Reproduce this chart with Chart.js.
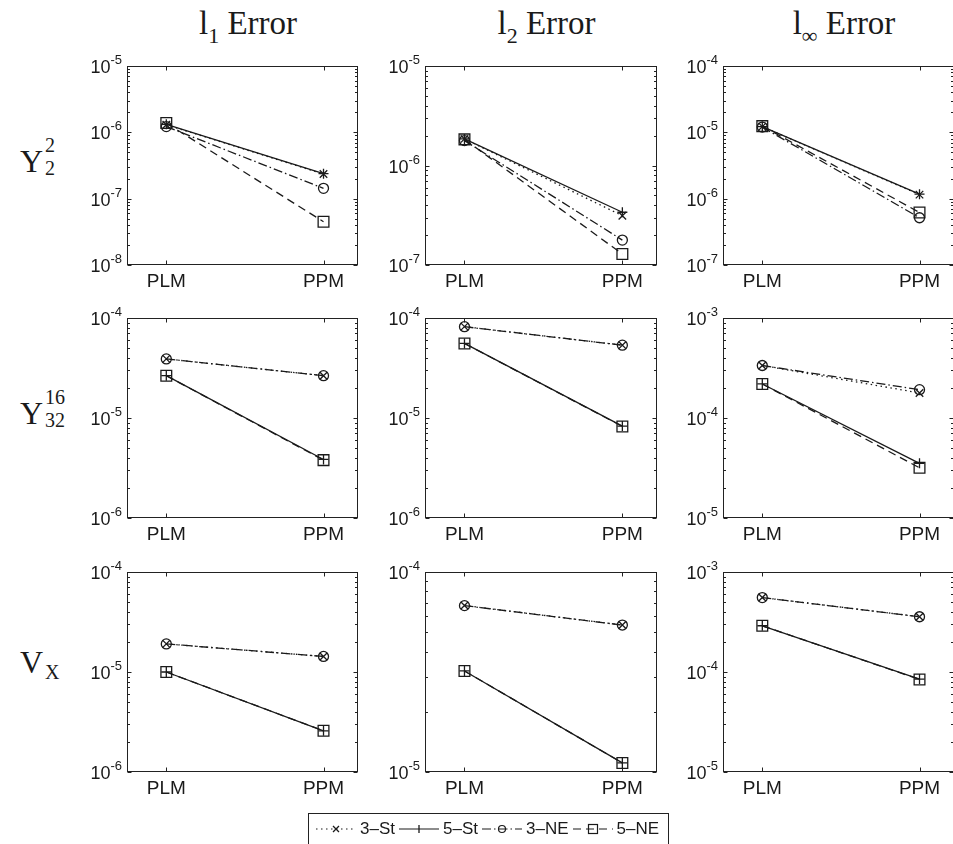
<!DOCTYPE html>
<html>
<head>
<meta charset="utf-8">
<script src="https://cdn.jsdelivr.net/npm/chart.js@4.4.1/dist/chart.umd.min.js"></script>
<style>
html,body{margin:0;padding:0;background:#fff;overflow:hidden;width:953px;height:844px;}
#wrap{position:relative;width:953px;height:844px;overflow:hidden;}
canvas.panel{position:absolute;}
.title{position:absolute;width:300px;text-align:center;font-family:'Liberation Serif',serif;font-size:33px;line-height:33px;color:#1a1a1a;white-space:nowrap;}
.title .sb{font-size:22px;position:relative;top:9px;}
.rl{position:absolute;left:20px;font-family:'Liberation Serif',serif;font-size:32px;line-height:32px;height:32px;color:#1a1a1a;}
.rl .sp,.rl .sbx{position:absolute;left:25px;font-size:20px;line-height:20px;white-space:nowrap;}
#legend{position:absolute;left:308px;top:813px;height:40px;border:1px solid #222;background:#fff;display:flex;align-items:flex-start;padding:0 6px 0 6px;font-family:'Liberation Sans',sans-serif;font-size:17px;color:#1a1a1a;}
#legend .it{display:flex;align-items:center;height:30px;margin-right:3px;}
#legend svg{display:block;margin-right:3px;}
</style>
</head>
<body>
<div id="wrap"></div>
<script>
// ---------- data ----------
const categories = ['PLM', 'PPM'];
const seriesNames = ['3\u2013St', '5\u2013St', '3\u2013NE', '5\u2013NE'];
const errorNames = ['1', '2', '\u221E'];            // l_1, l_2, l_inf
const rowNames = [['Y', '2', '2'], ['Y', '16', '32'], ['V', '', 'X']];

// panels in row-major order: (Y22,l1),(Y22,l2),(Y22,linf),(Y32,l1),(Y32,l2),(Y32,linf),(VX,l1),(VX,l2),(VX,linf)
// each entry: [PLM, PPM]
const st3 = [[1.30e-6, 2.35e-7], [1.85e-6, 3.13e-7], [1.22e-5, 1.15e-6],
             [3.90e-5, 2.65e-5], [8.20e-5, 5.35e-5], [3.35e-4, 1.78e-4],
             [1.91e-5, 1.43e-5], [6.80e-5, 5.43e-5], [5.55e-4, 3.57e-4]];
const st5 = [[1.32e-6, 2.38e-7], [1.85e-6, 3.39e-7], [1.22e-5, 1.17e-6],
             [2.65e-5, 3.85e-6], [5.57e-5, 8.30e-6], [2.19e-4, 3.52e-5],
             [1.00e-5, 2.58e-6], [3.20e-5, 1.11e-5], [2.90e-4, 8.50e-5]];
const ne3 = [[1.22e-6, 1.43e-7], [1.78e-6, 1.78e-7], [1.20e-5, 5.16e-7],
             [3.90e-5, 2.65e-5], [8.18e-5, 5.35e-5], [3.35e-4, 1.92e-4],
             [1.91e-5, 1.43e-5], [6.79e-5, 5.43e-5], [5.55e-4, 3.57e-4]];
const ne5 = [[1.38e-6, 4.49e-8], [1.83e-6, 1.29e-7], [1.24e-5, 6.20e-7],
             [2.65e-5, 3.79e-6], [5.57e-5, 8.24e-6], [2.19e-4, 3.18e-5],
             [1.00e-5, 2.58e-6], [3.20e-5, 1.11e-5], [2.90e-4, 8.43e-5]];
// y-axis decade range (exponents) per panel
const yExpMin = [-8, -7, -7, -6, -6, -5, -6, -5, -5];
const yExpMax = [-5, -5, -4, -4, -4, -3, -4, -4, -3];

// ---------- styling / layout ----------
const INK = '#1a1a1a';
const FONT = "'Liberation Sans', Arial, sans-serif";
const colLeft = [127, 425, 723], colW = [234, 235, 234];
const rowTop = [66, 318, 572], rowH = [199, 200, 200];
const PADL = 62, PADT = 14, PADR = 6, PADB = 34;

const seriesStyle = [
  {dash: [1.5, 3.5], ps: 'crossRot', r: 5.3},
  {dash: [], ps: 'cross', r: 5},
  {dash: [9, 3, 1.5, 3], ps: 'circle', r: 5},
  {dash: [8, 5], ps: 'rect', r: 7.6}
];
const seriesData = [st3, st5, ne3, ne5];

Chart.defaults.font.family = FONT;
Chart.defaults.color = INK;

// box, inner ticks and power-of-ten tick labels (MATLAB style)
const boxPlugin = {
  id: 'matlabBox',
  beforeDatasetsDraw(chart) {
    const {ctx, chartArea: a} = chart;
    const xs = chart.scales.x, ys = chart.scales.y;
    const L = Math.round(a.left) + 0.5, R = Math.round(a.right) - 0.5;
    const T = Math.round(a.top) + 0.5, B = Math.round(a.bottom) - 0.5;
    ctx.save();
    ctx.strokeStyle = '#222';
    ctx.lineWidth = 1;
    ctx.setLineDash([]);
    ctx.strokeRect(L, T, R - L, B - T);
    ctx.beginPath();
    ys.ticks.forEach((t, i) => {
      const py = Math.round(ys.getPixelForValue(t.value)) + 0.5;
      ctx.moveTo(L, py); ctx.lineTo(L + 4, py);
      ctx.moveTo(R, py); ctx.lineTo(R - 4, py);
      if (i < ys.ticks.length - 1) {
        for (let k = 2; k <= 9; k++) {
          const my = Math.round(ys.getPixelForValue(k * t.value)) + 0.5;
          ctx.moveTo(L, my); ctx.lineTo(L + 2.5, my);
          ctx.moveTo(R, my); ctx.lineTo(R - 2.5, my);
        }
      }
    });
    xs.ticks.forEach(t => {
      const px = Math.round(xs.getPixelForValue(t.value)) + 0.5;
      ctx.moveTo(px, B); ctx.lineTo(px, B - 4);
      ctx.moveTo(px, T); ctx.lineTo(px, T + 4);
    });
    ctx.stroke();

    // y tick labels "10" with raised exponent
    ctx.fillStyle = INK;
    ctx.textAlign = 'left';
    ctx.textBaseline = 'alphabetic';
    ys.ticks.forEach(t => {
      const py = ys.getPixelForValue(t.value);
      const ex = String(Math.round(Math.log10(t.value)));
      ctx.font = '13px ' + FONT;
      const ew = ctx.measureText(ex).width;
      ctx.font = '18px ' + FONT;
      const bw = ctx.measureText('10').width;
      const right = a.left - 5;
      ctx.fillText('10', right - ew - bw, py + 7);
      ctx.font = '13px ' + FONT;
      ctx.fillText(ex, right - ew, py - 2);
    });
    ctx.restore();
  }
};

const wrap = document.getElementById('wrap');

for (let r = 0; r < 3; r++) {
  for (let c = 0; c < 3; c++) {
    const p = r * 3 + c;
    const cv = document.createElement('canvas');
    cv.className = 'panel';
    const W = colW[c] + PADL + PADR, H = rowH[r] + PADT + PADB;
    cv.width = W; cv.height = H;
    cv.style.width = W + 'px'; cv.style.height = H + 'px';
    cv.style.left = (colLeft[c] - PADL) + 'px';
    cv.style.top = (rowTop[r] - PADT) + 'px';
    wrap.appendChild(cv);

    const datasets = seriesNames.map((name, s) => ({
      label: name,
      data: seriesData[s][p].map((v, i) => ({x: i + 1, y: v})),
      borderColor: INK,
      borderWidth: 1.3,
      borderDash: seriesStyle[s].dash,
      pointStyle: seriesStyle[s].ps,
      pointRadius: seriesStyle[s].r,
      pointBorderWidth: 1.3,
      pointBorderColor: INK,
      pointBackgroundColor: 'rgba(255,255,255,0)',
      fill: false,
      tension: 0
    }));

    new Chart(cv, {
      type: 'line',
      data: {datasets},
      options: {
        responsive: false,
        animation: false,
        devicePixelRatio: 1,
        layout: {padding: {top: PADT, right: PADR, left: 0, bottom: 0}},
        plugins: {legend: {display: false}, tooltip: {enabled: false}},
        scales: {
          x: {
            type: 'linear', min: 0.75, max: 2.22,
            grid: {display: false}, border: {display: false},
            afterBuildTicks: s => { s.ticks = categories.map((_, i) => ({value: i + 1})); },
            afterFit: s => { s.height = PADB; },
            ticks: {
              autoSkip: false, maxRotation: 0, padding: -3,
              font: {size: 19}, color: INK,
              callback: v => categories[Math.round(v) - 1]
            }
          },
          y: {
            type: 'logarithmic',
            min: Math.pow(10, yExpMin[p]), max: Math.pow(10, yExpMax[p]),
            grid: {display: false}, border: {display: false},
            afterBuildTicks: s => {
              const t = [];
              for (let e = yExpMin[p]; e <= yExpMax[p]; e++) t.push({value: Math.pow(10, e), major: true});
              s.ticks = t;
            },
            afterFit: s => { s.width = PADL; },
            ticks: {display: false}
          }
        }
      },
      plugins: [boxPlugin]
    });
  }
}

// column titles
errorNames.forEach((e, c) => {
  const d = document.createElement('div');
  d.className = 'title';
  const cx = colLeft[c] + colW[c] / 2 + 4;
  d.style.left = (cx - 150) + 'px';
  d.style.top = '7px';
  d.innerHTML = 'l<span class="sb">' + e + '</span> Error';
  wrap.appendChild(d);
});

// row labels
const rowLabelTop = [145, 397, 646];
rowNames.forEach((rn, r) => {
  const d = document.createElement('div');
  d.className = 'rl';
  d.style.top = rowLabelTop[r] + 'px';
  let h = rn[0];
  if (rn[1]) h += '<span class="sp" style="top:-10px">' + rn[1] + '</span>';
  if (rn[2]) h += '<span class="sbx" style="top:' + (r === 2 ? 16 : 13) + 'px">' + rn[2] + '</span>';
  d.innerHTML = h;
  wrap.appendChild(d);
});

// legend (line-style samples)
const lg = document.createElement('div');
lg.id = 'legend';
const markerSvg = ps => {
  const cx = 21, cy = 8;
  if (ps === 'crossRot') return `<path d="M${cx-3} ${cy-3}L${cx+3} ${cy+3}M${cx-3} ${cy+3}L${cx+3} ${cy-3}" stroke="${INK}" stroke-width="1.3"/>`;
  if (ps === 'cross') return `<path d="M${cx} ${cy-4}L${cx} ${cy+4}" stroke="${INK}" stroke-width="1.3"/>`;
  if (ps === 'circle') return `<circle cx="${cx}" cy="${cy}" r="3.5" fill="none" stroke="${INK}" stroke-width="1.2"/>`;
  return `<rect x="${cx-4.5}" y="${cy-4.5}" width="9" height="9" fill="none" stroke="${INK}" stroke-width="1.2"/>`;
};
seriesNames.forEach((name, s) => {
  const it = document.createElement('div');
  it.className = 'it';
  const dash = seriesStyle[s].dash.length ? `stroke-dasharray="${seriesStyle[s].dash.join(' ')}"` : '';
  it.innerHTML = `<svg width="42" height="16"><line x1="1" y1="8" x2="41" y2="8" stroke="${INK}" stroke-width="1.2" ${dash}/>${markerSvg(seriesStyle[s].ps)}</svg><span>${name}</span>`;
  lg.appendChild(it);
});
wrap.appendChild(lg);
</script>
</body>
</html>
